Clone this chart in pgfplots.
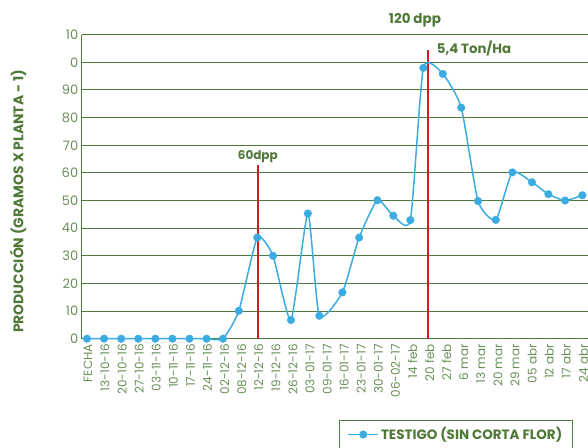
\documentclass[border=0pt]{standalone}
\usepackage{fontspec}
\setmainfont{Poppins}
\usepackage{pgfplots}
\pgfplotsset{compat=1.18}
\definecolor{gridgreen}{RGB}{78,122,58}
\definecolor{txtgreen}{RGB}{104,144,88}
\definecolor{ttlgreen}{RGB}{80,120,54}
\definecolor{lblue}{RGB}{58,172,226}
\definecolor{vlred}{RGB}{215,25,35}
\pgfplotstableread{
x y
0 0
1 0
2 0
3 0
4 0
5 0
6 0
7 0
7.96 0
8.89 10.1
9.97 36.6
10.89 30
11.94 6.75
12.93 45.3
13.60 8.3
14.95 16.75
15.93 36.6
17.00 50.1
17.93 44.5
18.93 42.9
19.69 98.0
20.83 95.8
21.91 83.6
22.89 49.8
23.93 43
24.90 60.2
26.05 56.6
27.01 52.3
27.99 50
29.00 51.9
}\datatable
\pgfplotstableread{
x y
19.95 0
19.95 104.5
}\linetwo
\pgfplotstableread{
x y
10.0 0
10.0 63
}\lineone
\begin{document}
\begin{tikzpicture}
\useasboundingbox (-81.7pt,-108.3pt) rectangle (506.3pt,338.7pt);
\clip (-81.7pt,-108.3pt) rectangle (506.3pt,338.7pt);
\begin{axis}[
  at={(0pt,0pt)}, anchor=south west,
  scale only axis, width=506.3pt, height=304pt,
  xmin=-0.31, xmax=29.33, ymin=0, ymax=110,
  axis lines=left, axis line style={-, draw=gridgreen, line width=1.2pt},
  ytick={0,10,...,110},
  yticklabels={0,10,20,30,40,50,60,70,80,90,0,10},
  ymajorgrids, grid style={gridgreen, line width=1pt},
  xtick={0,...,29},
  xticklabels={FECHA,13-10-16,20-10-16,27-10-16,03-11-16,10-11-16,17-11-16,24-11-16,02-12-16,08-12-16,12-12-16,19-12-16,26-12-16,03-01-17,09-01-17,16-01-17,23-01-17,30-01-17,06-02-17,14 feb,20 feb,27 feb,6 mar,13 mar,20 mar,29 mar,05 abr,12 abr,17 abr,24 abr},
  x tick label style={rotate=90, anchor=east, font=\fontsize{12}{14}\selectfont, yshift=-1pt, xshift=-2pt},
  y tick label style={font=\fontsize{13}{15}\selectfont},
  major tick length=0pt,
  tick label style={text=txtgreen},
  /pgf/number format/assume math mode=true,
  clip=false,
  legend style={at={(0.508,-0.2674)}, anchor=north west, draw=gridgreen, line width=1.2pt,
    font=\fontsize{13.5}{15}\selectfont\bfseries, text=ttlgreen, inner xsep=8pt, inner ysep=5pt},
  legend image code/.code={\draw[mark repeat=2,mark phase=2,#1] plot coordinates {(0pt,0pt) (15pt,0pt) (30pt,0pt)};},
]
\addplot[color=vlred, line width=1.5pt, mark=none, forget plot] table[x=x,y=y] {\linetwo};
\addplot[color=vlred, line width=1.5pt, mark=none, forget plot] table[x=x,y=y] {\lineone};
\addplot[color=lblue, line width=1.5pt, smooth, tension=0.33, mark=*, mark size=3.8pt, mark options={solid, fill=lblue, draw=lblue, line width=0.4pt}] table[x=x,y=y] {\datatable};
\addlegendentry{TESTIGO (SIN CORTA FLOR)\hspace{30pt}}
\node[font=\fontsize{12}{14}\selectfont\bfseries, text=ttlgreen] at (axis cs:10,66) {60dpp};
\node[font=\fontsize{13.5}{15}\selectfont\bfseries, text=ttlgreen] at (axis cs:19.2,115.1) {120 dpp};
\node[font=\fontsize{13.3}{15}\selectfont\bfseries, text=ttlgreen] at (axis cs:22.66,105.1) {5,4 Ton/Ha};
\node[rotate=90, font=\fontsize{13.9}{15}\selectfont\bfseries, text=ttlgreen] at ([xshift=-63.7pt]rel axis cs:0,0.452) {PRODUCCIÓN (GRAMOS X PLANTA - 1)};
\end{axis}
\end{tikzpicture}
\end{document}
